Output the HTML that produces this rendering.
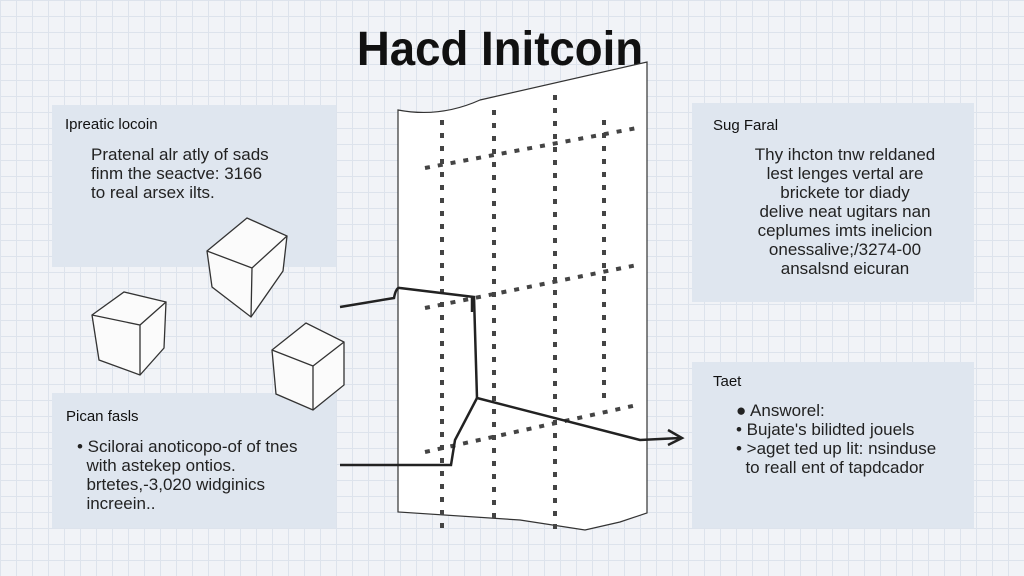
<!DOCTYPE html>
<html><head><style>
body{margin:0;width:1024px;height:576px;overflow:hidden;font-family:"Liberation Sans",sans-serif;
background-color:#f1f3f7;
background-image:linear-gradient(#dde3ec 1px,transparent 1px),linear-gradient(90deg,#dde3ec 1px,transparent 1px);
background-size:16px 16px;position:relative}
.p{position:absolute;background:#dfe6ef}
.t{position:absolute;font-size:17px;color:#222;line-height:19px}
.h{position:absolute;font-size:15px;color:#111}
</style></head><body>
<div class="p" style="left:52px;top:105px;width:284px;height:162px"></div>
<div class="p" style="left:52px;top:393px;width:284px;height:135px"></div>
<div class="p" style="left:692px;top:103px;width:282px;height:199px"></div>
<div class="p" style="left:692px;top:362px;width:282px;height:166px"></div>
<div style="position:absolute;left:0;width:1000px;top:22px;text-align:center;font-size:48px;font-weight:bold;color:#111;transform:scaleX(0.95)">Hacd Initcoin</div>
<div class="h" style="left:65px;top:116px">Ipreatic locoin</div>
<div class="t" style="left:91px;top:145px">Pratenal alr atly of sads<br>finm the seactve: 3166<br>to real arsex ilts.</div>
<div class="h" style="left:66px;top:408px">Pican fasls</div>
<div class="t" style="left:77px;top:437px">• Scilorai anoticopo-of of tnes<br>&nbsp;&nbsp;with astekep ontios.<br>&nbsp;&nbsp;brtetes,-3,020 widginics<br>&nbsp;&nbsp;increein..</div>
<div class="h" style="left:713px;top:117px">Sug Faral</div>
<div class="t" style="left:735px;top:145px;width:220px;text-align:center">Thy ihcton tnw reldaned<br>lest lenges vertal are<br>brickete tor diady<br>delive neat ugitars nan<br>ceplumes imts inelicion<br>onessalive;/3274-00<br>ansalsnd eicuran</div>
<div class="h" style="left:713px;top:373px">Taet</div>
<div class="t" style="left:736px;top:401px">● Answorel:<br>• Bujate's bilidted jouels<br>• >aget ted up lit: nsinduse<br>&nbsp;&nbsp;to reall ent of tapdcador</div>
<svg width="1024" height="576" style="position:absolute;left:0;top:0">
<path d="M398 110 Q440 118 480 100 L647 62 L647 513 L620 522 L585 530 L520 520 L398 512 Z" fill="#fff" stroke="#333" stroke-width="1.2"/>
<g stroke="#444" stroke-width="4" stroke-dasharray="5 8" fill="none">
<line x1="442" y1="120" x2="442" y2="530"/>
<line x1="494" y1="110" x2="494" y2="520"/>
<line x1="555" y1="95" x2="555" y2="530"/>
<line x1="604" y1="120" x2="604" y2="400"/>
<line x1="425" y1="168" x2="637" y2="128"/>
<line x1="425" y1="308" x2="637" y2="265"/>
<line x1="425" y1="452" x2="637" y2="405"/>
</g>
<g fill="none" stroke="#222" stroke-width="2.5">
<path d="M340 307 L394 298 Q396 287 400 288 L474 297 L477 398 L640 440 L680 438"/>
<path d="M668 430 L682 438 L668 445"/>
<path d="M340 465 L451 465 L455 440 L477 398"/>
<line x1="472" y1="296" x2="472" y2="312"/>
</g>
<g fill="#fbfbfb" stroke="#333" stroke-width="1.3">
<path d="M207 251 L247 218 L287 236 L283 271 L251 317 L212 287 Z"/>
<path d="M207 251 L252 268 L287 236 M252 268 L251 317" fill="none"/>
<path d="M92 315 L124 292 L166 302 L164 348 L140 375 L99 360 Z"/>
<path d="M92 315 L140 325 L166 302 M140 325 L140 375" fill="none"/>
<path d="M272 350 L306 323 L344 342 L344 385 L313 410 L276 394 Z"/>
<path d="M272 350 L313 366 L344 342 M313 366 L313 410" fill="none"/>
</g>
</svg>
</body></html>
